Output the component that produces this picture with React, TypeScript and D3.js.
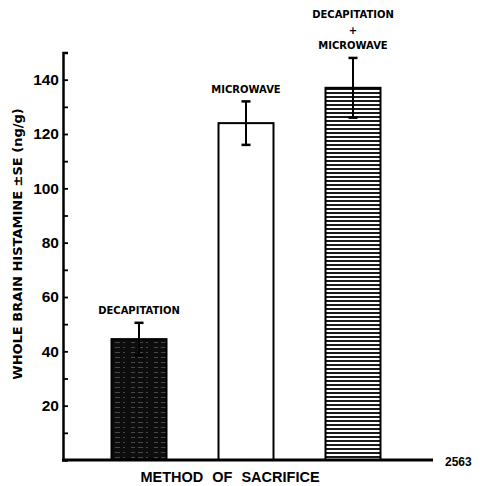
import React, { useRef, useEffect } from 'react';
import * as d3 from 'd3';

const methods = ['DECAPITATION', 'MICROWAVE', 'DECAPITATION + MICROWAVE'];
const histamine = [44.5, 124, 137];
const stdErr = [6, 8, 11];
const barLabels = [['DECAPITATION'], ['MICROWAVE'], ['DECAPITATION', '+', 'MICROWAVE']];
const yTicks = [10, 20, 30, 40, 50, 60, 70, 80, 90, 100, 110, 120, 130, 140, 150];

export default function App() {
  const svgRef = useRef<SVGSVGElement>(null);

  useEffect(() => {
    const svg = d3.select(svgRef.current);
    svg.selectAll('*').remove();

    const font = '"Liberation Sans", Arial, sans-serif';
    const wide = '"DejaVu Sans", sans-serif';
    const y = d3.scaleLinear().domain([0, 150]).range([460, 52.5]);
    const x = d3.scalePoint<string>().domain(methods).range([139, 353]);
    const barW = 55;

    // fill patterns for the two shaded bars
    const defs = svg.append('defs');
    const dark = defs.append('pattern').attr('id', 'dark')
      .attr('patternUnits', 'userSpaceOnUse').attr('width', 23).attr('height', 5);
    dark.append('rect').attr('width', 23).attr('height', 5).attr('fill', '#0d0d0d');
    dark.append('line').attr('x1', 0).attr('x2', 23).attr('y1', 2.5).attr('y2', 2.5)
      .attr('stroke', '#fff').attr('stroke-width', 0.7).attr('stroke-dasharray', '5 3 2 6 4 3')
      .attr('opacity', 0.35);
    const stripes = defs.append('pattern').attr('id', 'stripes')
      .attr('patternUnits', 'userSpaceOnUse').attr('width', 10).attr('height', 4);
    stripes.append('rect').attr('width', 10).attr('height', 4).attr('fill', '#fff');
    stripes.append('line').attr('x1', 0).attr('x2', 10).attr('y1', 1).attr('y2', 1)
      .attr('stroke', '#1a1a1a').attr('stroke-width', 2);

    const fills = ['url(#dark)', '#fff', 'url(#stripes)'];

    // bars
    svg.selectAll('rect.bar')
      .data(histamine)
      .join('rect')
      .attr('class', 'bar')
      .attr('x', (d, i) => x(methods[i])! - barW / 2)
      .attr('y', d => y(d))
      .attr('width', barW)
      .attr('height', d => y(0) - y(d))
      .attr('fill', (d, i) => fills[i])
      .attr('stroke', '#000')
      .attr('stroke-width', 2);

    // error bars
    const err = svg.append('g').attr('stroke', '#000').attr('stroke-width', 2);
    histamine.forEach((v, i) => {
      const cx = x(methods[i])!;
      err.append('line').attr('x1', cx).attr('x2', cx)
        .attr('y1', y(v - stdErr[i])).attr('y2', y(v + stdErr[i]));
      [v - stdErr[i], v + stdErr[i]].forEach(e => {
        err.append('line').attr('x1', cx - 4.5).attr('x2', cx + 4.5)
          .attr('y1', y(e)).attr('y2', y(e)).attr('stroke-width', 2.5);
      });
    });

    // labels above bars
    histamine.forEach((v, i) => {
      const lines = barLabels[i];
      const top = y(v + stdErr[i]) - 8.5;
      lines.forEach((t, j) => {
        svg.append('text')
          .attr('x', x(methods[i])!)
          .attr('y', top - (lines.length - 1 - j) * 15.5)
          .attr('text-anchor', 'middle')
          .attr('font-family', wide)
          .attr('font-weight', 'bold')
          .attr('font-size', 10)
          .text(t);
      });
    });

    // y axis
    const yAxis = d3.axisLeft(y)
      .tickValues(yTicks)
      .tickSizeInner(-5)
      .tickSizeOuter(-5)
      .tickPadding(4)
      .tickFormat(d => (+d % 20 === 0 ? String(d) : ''));
    const ga = svg.append('g').attr('transform', 'translate(63,0)').call(yAxis);
    ga.select('.domain').attr('stroke-width', 2.5);
    ga.selectAll('.tick line').attr('stroke-width', 1.8);
    ga.selectAll('.tick text')
      .attr('font-family', font)
      .attr('font-weight', 'bold')
      .attr('font-size', 15.5)
      .attr('fill', '#000');

    // x axis line
    svg.append('line')
      .attr('x1', 62).attr('x2', 433)
      .attr('y1', y(0)).attr('y2', y(0))
      .attr('stroke', '#000').attr('stroke-width', 3);

    svg.append('text')
      .attr('transform', 'translate(22,244) rotate(-90)')
      .attr('text-anchor', 'middle')
      .attr('font-family', wide)
      .attr('font-weight', 'bold')
      .attr('font-size', 13)
      .text('WHOLE BRAIN HISTAMINE \u00b1SE (ng/g)');

    svg.append('text')
      .attr('x', 230).attr('y', 482)
      .attr('text-anchor', 'middle')
      .attr('font-family', font)
      .attr('font-weight', 'bold')
      .attr('font-size', 14.5)
      .attr('word-spacing', 5)
      .text('METHOD OF SACRIFICE');

    svg.append('text')
      .attr('x', 445).attr('y', 466)
      .attr('font-family', font)
      .attr('font-weight', 'bold')
      .attr('font-size', 12)
      .text('2563');
  }, []);

  return (
    <svg ref={svgRef} width={485} height={486}
      style={{ position: 'absolute', left: 0, top: 0, background: '#fff' }} />
  );
}
